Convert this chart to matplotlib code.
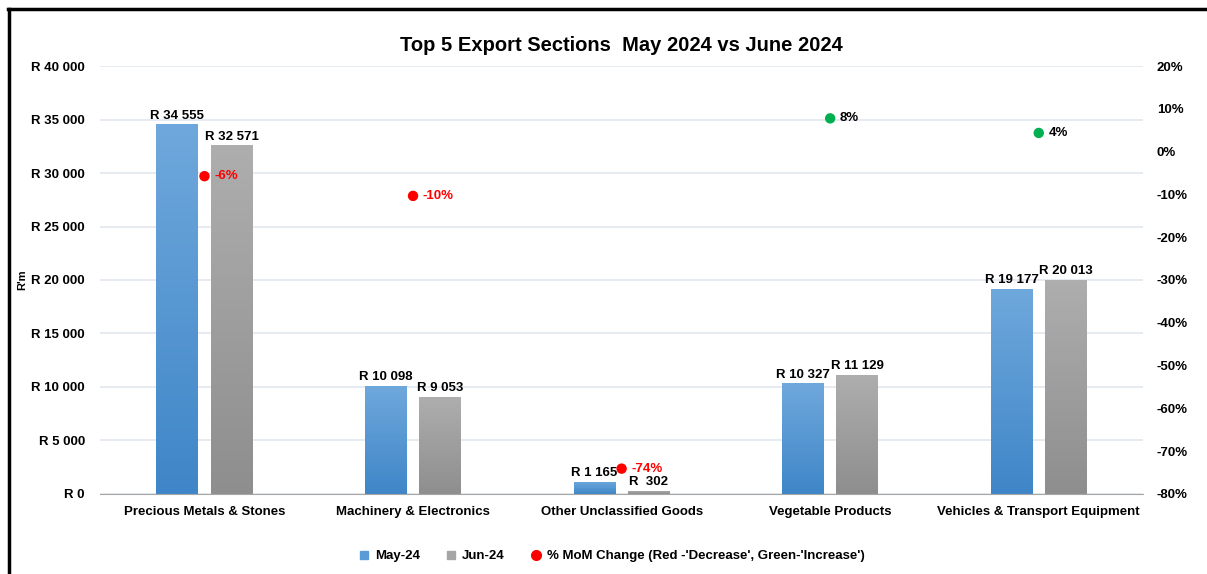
"""
Top 5 export sections, May 2024 vs June 2024, with month-on-month change
"""

import numpy as np
import matplotlib.pyplot as plt
from matplotlib.colors import LinearSegmentedColormap
from matplotlib.lines import Line2D
from matplotlib.ticker import FuncFormatter, MultipleLocator

plt.rcParams["font.family"] = ["Liberation Sans", "DejaVu Sans"]
plt.rcParams["font.weight"] = "bold"

sections = [
    "Precious Metals & Stones",
    "Machinery & Electronics",
    "Other Unclassified Goods",
    "Vegetable Products",
    "Vehicles & Transport Equipment",
]
may_24 = [34555, 10098, 1165, 10327, 19177]
jun_24 = [32571, 9053, 302, 11129, 20013]

may = np.array(may_24)
jun = np.array(jun_24)
pct = (jun - may) / may * 100


def rand(v, _=None):
    return "R " + f"{int(v):,}".replace(",", " ")


def bar_label(v):
    # excel "R # ##0" style keeps a blank for the empty thousands slot
    if v < 1000:
        return "R  " + str(int(v))
    return rand(v)


fig = plt.figure(figsize=(12.07, 5.74), dpi=100)
ax = fig.add_axes([0.083, 0.1394, 0.864, 0.7456])
ax2 = ax.twinx()

x = np.arange(len(sections))
w = 0.2
off = 0.13

blue_cm = LinearSegmentedColormap.from_list("b", ["#3F86C8", "#6FA8DC"])
gray_cm = LinearSegmentedColormap.from_list("g", ["#8E8E8E", "#AEAEAE"])

for vals, dx, cm in [(may, -off, blue_cm), (jun, off, gray_cm)]:
    bars = ax.bar(x + dx, vals, w, color="none", edgecolor="none", zorder=2)
    for b, v in zip(bars, vals):
        grad = np.linspace(0, 1, 256).reshape(-1, 1)
        im = ax.imshow(grad, cmap=cm, origin="lower", aspect="auto",
                       extent=[b.get_x(), b.get_x() + b.get_width(), 0, v],
                       zorder=2)
        im.set_clip_path(b)
        ax.text(b.get_x() + b.get_width() / 2, v + 250, bar_label(v),
                ha="center", va="bottom", fontsize=9.5, fontweight="bold")

ax.set_xlim(-0.5, len(sections) - 0.5)
ax.set_ylim(0, 40000)
ax.yaxis.set_major_locator(MultipleLocator(5000))
ax.yaxis.set_major_formatter(FuncFormatter(rand))
ax.grid(axis="y", color="#E1E7EF", lw=1.2, zorder=0)
ax.set_axisbelow(True)
ax.set_xticks(x)
ax.set_xticklabels(sections, fontsize=9.5, fontweight="bold")
ax.tick_params(axis="both", length=0, labelsize=9.5)
ax.tick_params(axis="y", pad=11)
ax.tick_params(axis="x", pad=9)
for s in ["top", "left", "right"]:
    ax.spines[s].set_visible(False)
ax.spines["bottom"].set_color("#A6A6A6")
ax.set_ylabel("R'm", fontsize=8, fontweight="bold")
ax.yaxis.set_label_coords(-0.07, 0.5)
ax.set_title("Top 5 Export Sections  May 2024 vs June 2024",
             fontsize=14.5, fontweight="bold", pad=11)

dot_cols = ["#FF0000" if p < 0 else "#00B050" for p in pct]
ax2.scatter(x, pct, s=42, c=dot_cols, zorder=5)
for xi, p, c in zip(x, pct, dot_cols):
    ax2.annotate(f"{p:.0f}%", (xi, p), xytext=(7, 0), textcoords="offset points",
                 ha="left", va="center", color=c if p < 0 else "black",
                 fontsize=9.5, fontweight="bold")
ax2.set_ylim(-80, 20)
ax2.yaxis.set_major_locator(MultipleLocator(10))
ax2.yaxis.set_major_formatter(FuncFormatter(lambda v, _: f"{v:.0f}%"))
ax2.tick_params(axis="y", length=0, labelsize=9.5, pad=10)
for s in ax2.spines.values():
    s.set_visible(False)

handles = [
    Line2D([], [], marker="s", ls="none", color="#5B9BD5", markersize=6),
    Line2D([], [], marker="s", ls="none", color="#A5A5A5", markersize=6),
    Line2D([], [], marker="o", ls="none", color="#FF0000", markersize=7),
]
fig.legend(handles, ["May-24", "Jun-24",
                     "% MoM Change (Red -'Decrease', Green-'Increase')"],
           loc="center", bbox_to_anchor=(0.505, 0.031), ncol=3, frameon=False,
           fontsize=9.5, handletextpad=0.1, handlelength=1.5,
           columnspacing=1.6)

# outer frame (top and left edges only)
fig.add_artist(Line2D([0.007, 1.0], [0.984, 0.984], color="black", lw=2.5,
                      transform=fig.transFigure))
fig.add_artist(Line2D([0.0075, 0.0075], [0.0, 0.984], color="black", lw=2.5,
                      transform=fig.transFigure))

plt.savefig("out.png", dpi=100)
